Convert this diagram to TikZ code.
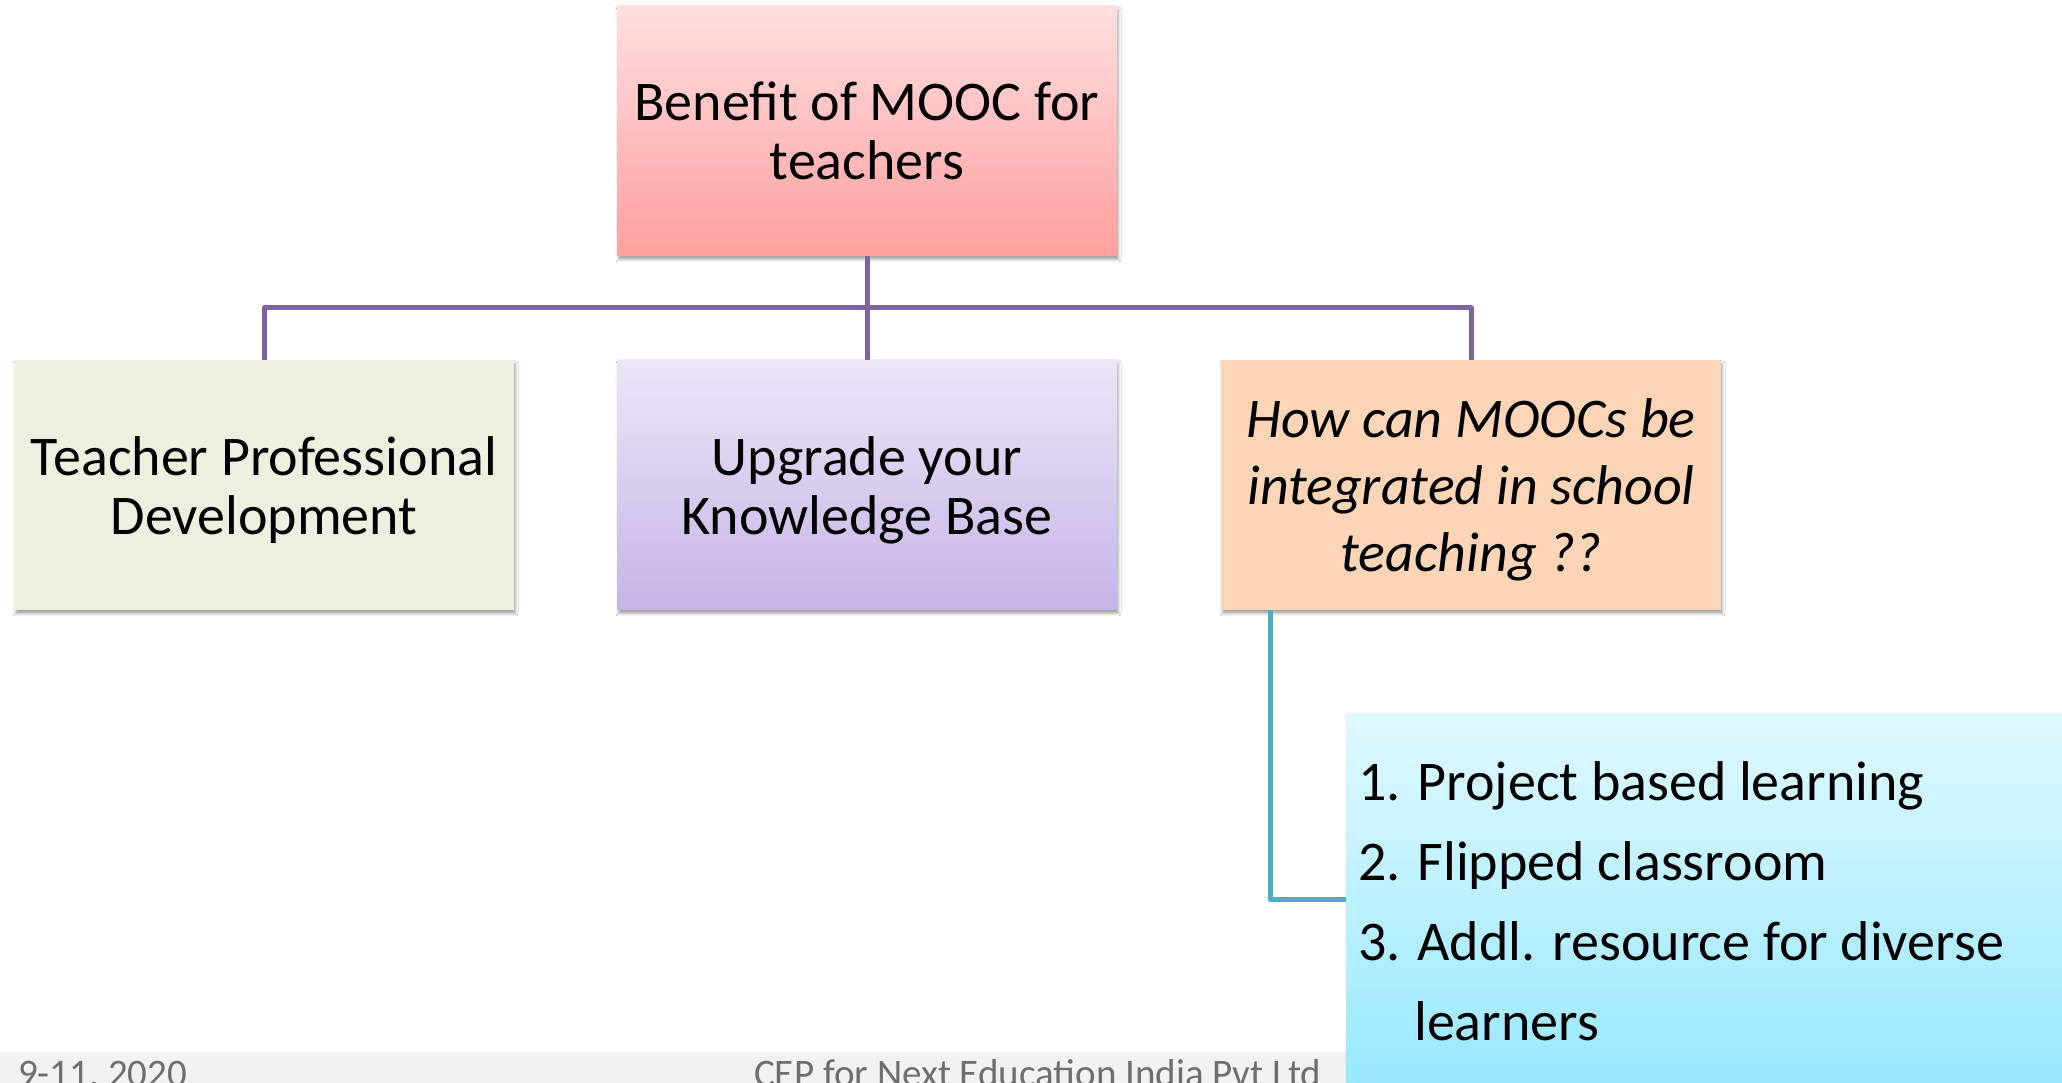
\documentclass[tikz,border=0pt]{standalone}
\usepackage{fontspec}
\setmainfont{Carlito}
\usetikzlibrary{shadows.blur}
\definecolor{pinkT}{RGB}{255,224,224}
\definecolor{pinkB}{RGB}{255,158,158}
\definecolor{greenF}{RGB}{235,241,222}
\definecolor{lavT}{RGB}{236,230,248}
\definecolor{lavB}{RGB}{198,180,230}
\definecolor{peachF}{RGB}{251,213,181}
\definecolor{cyanT}{RGB}{224,249,255}
\definecolor{cyanB}{RGB}{152,232,255}
\definecolor{purpleLine}{RGB}{128,100,162}
\definecolor{blueLine}{RGB}{75,172,198}
\definecolor{footerGray}{RGB}{242,242,242}
\definecolor{footerText}{RGB}{110,110,110}
\begin{document}
\begin{tikzpicture}[x=1pt,y=1pt,
  box/.style={rectangle, minimum width=500pt, minimum height=250pt, inner sep=0pt,
    blur shadow={shadow xshift=1.5pt, shadow yshift=-3.5pt, shadow blur radius=2.5pt, shadow opacity=35}},
  boxtext/.style={inner sep=0pt, align=center, font=\fontsize{56}{59}\selectfont},
  purplelink/.style={draw=purpleLine, line width=5pt, line join=round},
  bluelink/.style={draw=blueLine, line width=5pt, line join=round},
  foottext/.style={anchor=base west, inner sep=0pt, text=footerText, font=\fontsize{39}{47}\selectfont}]
\useasboundingbox (0,0) rectangle (2062,1083);
\clip (0,0) rectangle (2062,1083);
\fill[white] (0,0) rectangle (2062,1083);

% footer
\node[fill=footerGray, minimum width=1346pt, minimum height=31pt, inner sep=0pt, anchor=south west] (footer) at (0,0) {};
\node[foottext] (date) at (18,-4) {9-11, 2020};
\node[foottext] (org) at (754,-4) {CEP for Next Education India Pvt Ltd};

% boxes
\node[box, top color=pinkT, bottom color=pinkB] (top) at (867,952) {};
\node[boxtext] (toptext) at (top.center) {Benefit of MOOC for\\teachers};
\node[box, fill=greenF] (b1) at (264,598) {};
\node[boxtext] (b1text) at ([yshift=-5pt]b1.center) {Teacher Professional\\Development};
\node[box, top color=lavT, bottom color=lavB] (b2) at (867,598) {};
\node[boxtext] (b2text) at ([yshift=-5pt]b2.center) {Upgrade your\\Knowledge Base};
\node[box, fill=peachF] (b3) at (1471,598) {};
\node[boxtext, font=\fontsize{56}{67}\selectfont\itshape] (b3text) at ([yshift=-5pt]b3.center) {How can MOOCs be\\integrated in school\\teaching ??};

% connectors
\coordinate (hub) at (867,775);
\draw[purplelink] (top.south) -- (hub);
\draw[purplelink] (hub) -| (b1.north);
\draw[purplelink] (hub) -| (b3.north);
\draw[purplelink] (hub) -- (b2.north);

% list box
\node[box, minimum width=800pt, minimum height=372pt, top color=cyanT, bottom color=cyanB, anchor=west] (list) at (1346,183) {};
\draw[bluelink] ([xshift=50pt]b3.south west) |- (list.west);
\node[anchor=north west, inner sep=0pt, align=left, font=\fontsize{56}{80}\selectfont] (listtext) at (1358,322)
  {1. Project based learning\\2. Flipped classroom\\3. Addl. resource for diverse\\\hspace*{56pt}learners};
\end{tikzpicture}
\end{document}
